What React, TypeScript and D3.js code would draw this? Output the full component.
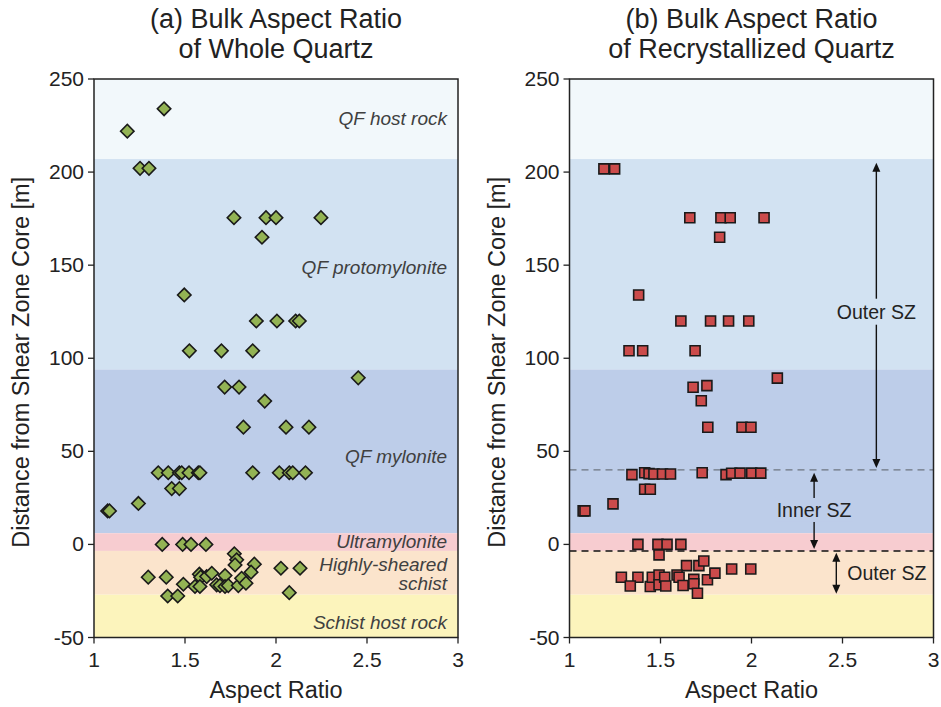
import React from "react";
import * as d3 from "d3";

// Lithological zones (distance from shear zone core, m)
const zoneEdges = [250, 207, 94, 6, -3.5, -27, -50];
const zoneNames = ["QF host rock", "QF protomylonite", "QF mylonite", "Ultramylonite", "Highly-sheared\nschist", "Schist host rock"];
const zoneColors = ["#f2f8fb", "#d2e2f2", "#bdcde9", "#f7ccd0", "#fbe4cc", "#fcf4bc"];
const zoneLabelAt = [229, 149, 47.5, 2, -15.8, -41.6];

const xTicks = [1, 1.5, 2, 2.5, 3];
const yTicks = [250, 200, 150, 100, 50, 0, -50];

// (a) whole quartz grains
const wholeAR = [
  1.385, 1.183, 1.253, 1.302,
  1.769, 1.945, 2.0, 2.247, 1.923, 1.496, 1.892, 2.005, 2.108, 2.128, 1.524, 1.70, 1.872,
  2.452, 1.718, 1.797, 1.938, 1.821, 2.055, 2.181,
  1.353, 1.408, 1.469, 1.482, 1.522, 1.573, 1.582, 1.872, 2.018, 2.073, 2.092, 2.162,
  1.427, 1.469, 1.075, 1.085, 1.244,
  1.375, 1.487, 1.533, 1.615,
  1.771, 1.784, 1.775, 1.881, 1.863, 2.027, 2.132, 2.073, 1.298, 1.397, 1.405, 1.46,
  1.491, 1.555, 1.579, 1.586, 1.582, 1.619, 1.647, 1.674, 1.692, 1.72, 1.72, 1.738,
  1.793, 1.811, 1.835,
];
const wholeDist = [
  234, 222, 202, 202,
  175.5, 175.5, 175.5, 175.5, 165, 134, 120, 120, 120, 120, 104, 104, 104,
  89.5, 84.5, 84.5, 77, 63, 63, 63,
  38.5, 38.5, 38.5, 38.5, 38.5, 38.5, 38.5, 38.5, 38.5, 38.5, 38.5, 38.5,
  30, 30, 18, 18, 22,
  0, 0, 0, 0,
  -5, -8.3, -11, -10.6, -14.9, -12.8, -12.8, -25.9, -17.6, -17.6, -27.7, -27.7,
  -21.4, -22.6, -16, -17.6, -22.6, -17.3, -15.5, -21.7, -22.1, -16.7, -22.6, -22.1,
  -22.1, -18.2, -20.8,
];

// (b) recrystallized quartz grains
const recrysAR = [
  1.189, 1.248,
  1.661, 1.832, 1.883, 2.069, 1.825, 1.38, 1.612, 1.775, 1.874, 1.985, 1.327, 1.402, 1.69,
  2.142, 1.679, 1.755, 1.724, 1.76, 1.948, 1.997,
  1.343, 1.413, 1.437, 1.464, 1.511, 1.555, 1.729, 1.86, 1.891, 1.937, 2.001, 2.051,
  1.413, 1.444, 1.075, 1.085, 1.239,
  1.376, 1.486, 1.536, 1.612, 1.492,
  1.643, 1.711, 1.738, 1.891, 1.996, 1.285, 1.376, 1.334, 1.444, 1.455, 1.492, 1.492,
  1.523, 1.529, 1.591, 1.602, 1.624, 1.683, 1.683, 1.703, 1.758, 1.799,
];
const recrysDist = [
  201.7, 201.7,
  175.5, 175.5, 175.5, 175.5, 165, 134, 120, 120, 120, 120, 104, 104, 104,
  89.3, 84.4, 85.3, 77.2, 62.9, 62.9, 62.9,
  37.5, 38.5, 38, 37.8, 37.8, 37.8, 38.5, 37.5, 38.2, 38.3, 38.3, 38.3,
  29.6, 29.6, 18, 18, 21.8,
  0, 0, 0, 0, -5.6,
  -11.4, -11.4, -8.9, -13.2, -13.2, -17.6, -17.6, -22.3, -22.6, -17.6, -16.4, -21.7,
  -17.6, -22.3, -16.4, -17.6, -22.1, -18.8, -21.1, -26.2, -19, -15.4,
];

const FONT = "'Liberation Sans', Arial, sans-serif";
const TOP = 79;
const BOTTOM = 637.5;
const PW = 364;

type PanelProps = {
  left: number;
  title: [string, string];
  ar: number[];
  dist: number[];
  marker: "diamond" | "square";
  labels: boolean;
  children?: (x: d3.ScaleLinear<number, number>, y: d3.ScaleLinear<number, number>) => React.ReactNode;
};

function Panel({ left, title, ar, dist, marker, labels, children }: PanelProps) {
  const x = d3.scaleLinear().domain([1, 3]).range([left, left + PW]);
  const y = d3.scaleLinear().domain([-50, 250]).range([BOTTOM, TOP]);
  const cx = left + PW / 2;
  const diamond = d3.symbol().type(d3.symbolSquare).size(90)();
  const square = d3.symbol().type(d3.symbolSquare).size(100)();
  return (
    <g>
      {zoneColors.map((c, i) => (
        <rect key={i} x={left} width={PW} y={y(zoneEdges[i])}
          height={y(zoneEdges[i + 1]) - y(zoneEdges[i])} fill={c} />
      ))}
      {labels && zoneNames.map((n, i) => (
        <text key={i} x={left + PW - 11} y={y(zoneLabelAt[i])} textAnchor="end"
          fontStyle="italic" fontSize={19} fill="#404040" fontFamily={FONT}>
          {n.split("\n").map((s, j, arr) => (
            <tspan key={j} x={left + PW - 11} dy={j === 0 ? (arr.length > 1 ? -2.5 : 7) : 19}>{s}</tspan>
          ))}
        </text>
      ))}
      {children && children(x, y)}
      {ar.map((a, i) => (
        <path key={i} d={marker === "diamond" ? diamond! : square!}
          transform={`translate(${x(a)},${y(dist[i])})${marker === "diamond" ? " rotate(45)" : ""}`}
          fill={marker === "diamond" ? "#93b354" : "#cb4b4b"} stroke="#1a1a1a" strokeWidth={1.6} />
      ))}
      <rect x={left} y={TOP} width={PW} height={BOTTOM - TOP} fill="none" stroke="#222" strokeWidth={1.5} />
      {yTicks.map((t) => (
        <g key={t}>
          <line x1={left - 6} x2={left} y1={y(t)} y2={y(t)} stroke="#222" strokeWidth={1.3} />
          <text x={left - 10} y={y(t) + 7} textAnchor="end" fontSize={21} fontFamily={FONT} fill="#222">{t}</text>
        </g>
      ))}
      {xTicks.map((t) => (
        <g key={t}>
          <line x1={x(t)} x2={x(t)} y1={BOTTOM} y2={BOTTOM + 6} stroke="#222" strokeWidth={1.3} />
          <text x={x(t)} y={BOTTOM + 29} textAnchor="middle" fontSize={21} fontFamily={FONT} fill="#222">{t}</text>
        </g>
      ))}
      <text x={cx} y={BOTTOM + 60} textAnchor="middle" fontSize={23.5} fontFamily={FONT} fill="#222">Aspect Ratio</text>
      <text transform={`translate(${left - 65},${(TOP + BOTTOM) / 2 + 4}) rotate(-90)`} textAnchor="middle"
        fontSize={23.5} fontFamily={FONT} fill="#222">Distance from Shear Zone Core [m]</text>
      <text x={cx} y={28} textAnchor="middle" fontSize={27} fontFamily={FONT} fill="#222">{title[0]}</text>
      <text x={cx} y={58} textAnchor="middle" fontSize={27} fontFamily={FONT} fill="#222">{title[1]}</text>
    </g>
  );
}

function Arrow({ x, y1, y2 }: { x: number; y1: number; y2: number }) {
  const h = 9;
  const w = 4;
  return (
    <g>
      <line x1={x} x2={x} y1={y1 + h - 1} y2={y2 - h + 1} stroke="#111" strokeWidth={1.4} />
      <path d={`M${x},${y1}L${x - w},${y1 + h}L${x + w},${y1 + h}Z`} fill="#111" />
      <path d={`M${x},${y2}L${x - w},${y2 - h}L${x + w},${y2 - h}Z`} fill="#111" />
    </g>
  );
}

function ShearZones(x: d3.ScaleLinear<number, number>, y: d3.ScaleLinear<number, number>) {
  const [x0, x1] = x.range();
  const ox = x(2.686);
  const ix = x(2.344);
  const lx = x(2.466);
  return (
    <g fontFamily={FONT} fontSize={19.5} fill="#222">
      <line x1={x0} x2={x1} y1={y(40)} y2={y(40)} stroke="#6d7580" strokeWidth={1.2} strokeDasharray="7,5" />
      <line x1={x0} x2={x1} y1={y(-3.5)} y2={y(-3.5)} stroke="#111" strokeWidth={1.4} strokeDasharray="7,5" />
      <Arrow x={ox} y1={y(205)} y2={y(41)} />
      <rect x={ox - 44} y={y(125) - 13} width={88} height={26} fill={zoneColors[1]} />
      <text x={ox} y={y(125) + 7} textAnchor="middle">Outer SZ</text>
      <Arrow x={ix} y1={y(38.5)} y2={y(-2.5)} />
      <rect x={ix - 39} y={y(18.5) - 12} width={78} height={24} fill={zoneColors[2]} />
      <text x={ix} y={y(18.5) + 7} textAnchor="middle">Inner SZ</text>
      <Arrow x={lx} y1={y(-4.5)} y2={y(-26.5)} />
      <text x={lx + 11} y={y(-15.3) + 7}>Outer SZ</text>
    </g>
  );
}

export default function App() {
  return (
    <div style={{ position: "absolute", left: 0, top: 0 }}>
      <svg width={941} height={707} style={{ display: "block", background: "#fff" }}>
        <Panel left={94} title={["(a) Bulk Aspect Ratio", "of Whole Quartz"]} ar={wholeAR} dist={wholeDist}
          marker="diamond" labels={true} />
        <Panel left={569.5} title={["(b) Bulk Aspect Ratio", "of Recrystallized Quartz"]} ar={recrysAR} dist={recrysDist}
          marker="square" labels={false}>
          {ShearZones}
        </Panel>
      </svg>
    </div>
  );
}
